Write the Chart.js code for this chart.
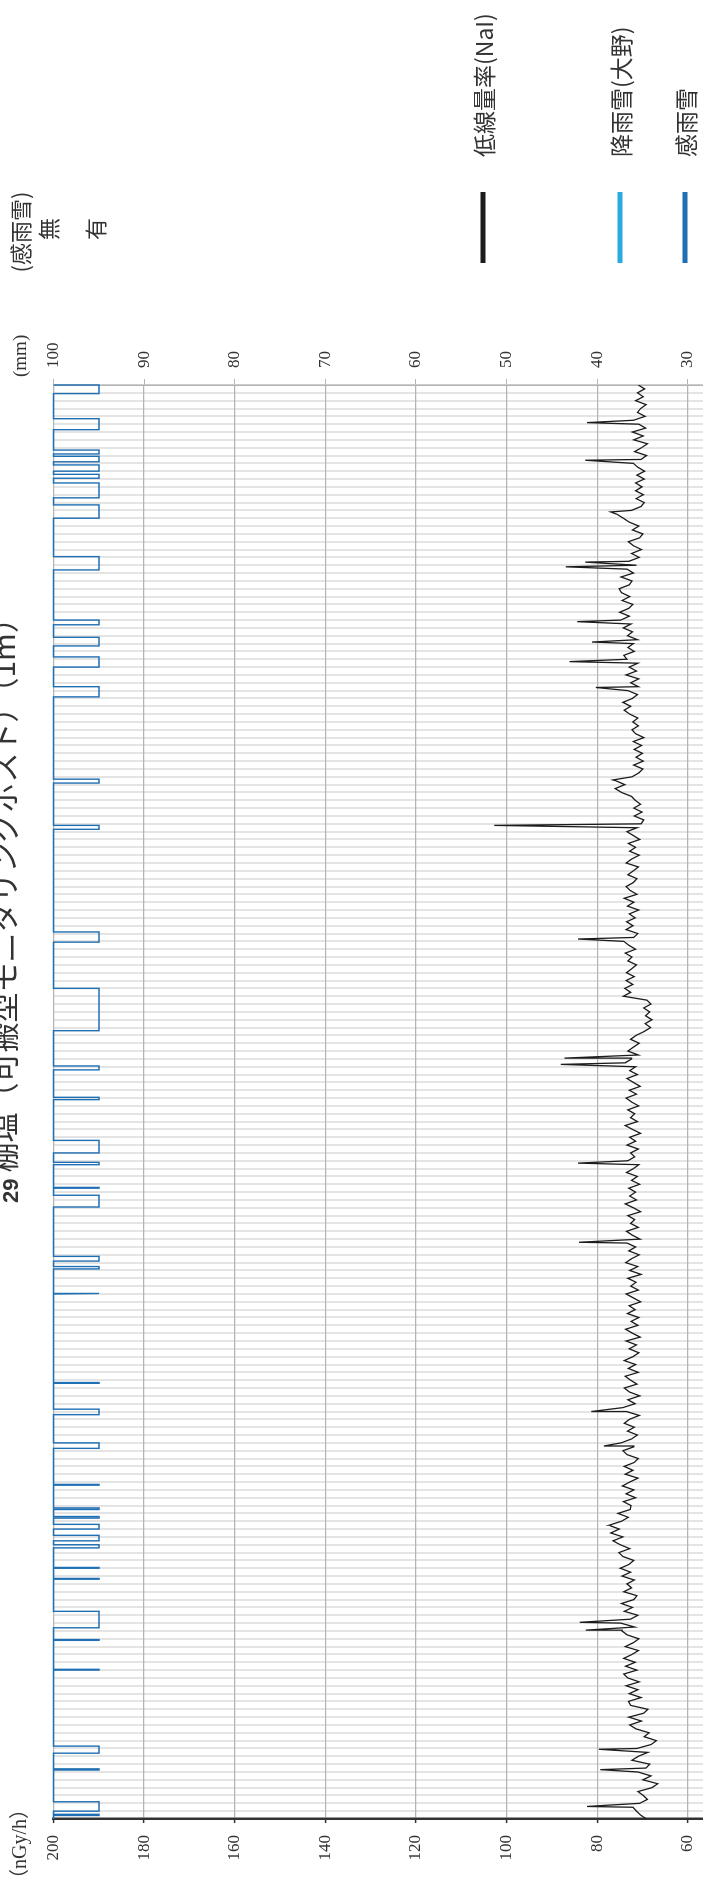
<!DOCTYPE html>
<html lang="ja">
<head>
<meta charset="utf-8">
<title>29 棚塩（可搬型モニタリングポスト）（1m）</title>
<script src="https://cdn.jsdelivr.net/npm/chart.js@4.4.1/dist/chart.umd.min.js"></script>
<style>
  html, body { margin: 0; padding: 0; background: #fff; }
  #page { position: relative; width: 703px; height: 1883px; overflow: hidden; }
  /* chart is drawn landscape, then turned a quarter to the left */
  #turn { position: absolute; left: 0; top: 0; width: 1883px; height: 1000px;
          transform-origin: 0 0; transform: translateY(1883px) rotate(-90deg); }
</style>
</head>
<body>
<div id="page"><div id="turn"><canvas id="doseChart" width="1883" height="1000"></canvas></div></div>
<script>
// period length in days, dose readings every half day
const dayCount = 183;
const doseStep = 0.5;

// 低線量率 (nGy/h), one value per half day
const doseRate = [
  69.1, 70.4, 71.3, 72.1, 70.6, 68.9, 69.8, 71.0, 67.9, 66.6, 69.9, 68.1, 71.0, 69.2, 68.4, 72.3, 70.9, 68.8, 71.2, 68.1,
  66.9, 69.6, 68.5, 71.4, 72.8, 70.2, 73.0, 69.7, 68.8, 72.6, 73.1, 70.3, 72.9, 71.0, 73.6, 70.7, 73.2, 74.1, 71.2, 73.7,
  71.6, 74.1, 72.3, 70.9, 73.8, 72.0, 70.8, 73.4, 74.5, 71.7, 74.8, 72.6, 71.0, 74.0, 72.2, 74.6, 71.9, 71.2, 74.1, 72.4,
  73.4, 71.8, 74.5, 72.6, 74.9, 72.9, 71.9, 74.3, 75.2, 72.8, 74.9, 76.5, 74.3, 77.0, 75.1, 77.3, 74.6, 73.1, 75.4, 72.7,
  72.5, 74.2, 71.5, 73.6, 71.9, 74.4, 72.8, 71.0, 73.8, 72.1, 74.0, 71.8, 70.9, 73.4, 74.3, 71.9, 74.7, 72.4, 71.1, 73.3,
  71.8, 74.0, 72.9, 70.7, 73.5, 74.3, 71.6, 73.2, 70.6, 72.9, 74.0, 71.2, 72.6, 73.8, 70.9, 73.1, 71.5, 74.0, 72.1, 70.8,
  72.9, 71.3, 73.6, 70.5, 72.2, 73.7, 71.0, 72.5, 70.8, 73.3, 71.6, 72.9, 70.4, 72.0, 73.6, 70.9, 72.6, 71.4, 73.2, 70.3,
  72.8, 71.0, 73.7, 72.4, 70.7, 73.0, 71.5, 73.4, 70.5, 72.2, 73.5, 70.9, 72.6, 71.7, 73.2, 70.4, 72.0, 73.8, 71.3, 72.8,
  71.5, 73.0, 70.6, 72.4, 71.1, 73.5, 72.0, 70.8, 73.2, 71.7, 72.6, 70.9, 73.4, 71.5, 72.8, 70.4, 72.2, 73.8, 71.1, 72.6,
  71.7, 73.2, 70.8, 72.4, 73.6, 71.3, 72.9, 70.5, 72.0, 73.4, 71.1, 72.8, 71.5, 73.8, 72.4, 70.9, 73.2, 72.0, 70.7, 72.6,
  71.4, 69.6, 68.2, 69.4, 67.9, 69.3, 68.4, 69.7, 68.1, 69.0, 74.2, 72.6, 73.9, 72.1, 73.6, 71.8, 73.5, 72.4, 71.3, 73.2,
  72.3, 73.8, 71.5, 73.0, 74.1, 71.9, 71.0, 73.6, 72.1, 73.5, 71.6, 72.9, 70.8, 73.3, 71.9, 74.0, 71.2, 72.7, 73.6, 72.0,
  71.2, 73.2, 72.0, 70.9, 73.6, 72.4, 70.7, 72.8, 71.5, 73.1, 70.6, 72.0, 73.4, 71.2, 70.3, 69.7, 71.8, 70.1, 71.9, 70.4,
  71.6, 72.4, 74.6, 76.0, 73.9, 75.9, 72.3, 70.8, 69.9, 71.9, 69.8, 71.4, 70.0, 71.8, 70.2, 72.0, 69.7, 71.5, 72.3, 70.9,
  72.1, 71.0, 72.8, 74.0, 72.6, 74.3, 72.2, 71.1, 73.2, 70.9, 72.6, 70.8, 73.6, 71.3, 72.9, 71.0, 73.4, 74.1, 71.8, 73.2,
  72.0, 71.1, 73.3, 72.2, 74.2, 72.5, 74.8, 72.9, 75.0, 73.0, 72.1, 74.5, 72.8, 74.6, 75.1, 72.9, 72.3, 74.7, 72.0, 73.4,
  71.3, 73.0, 70.7, 72.4, 70.2, 72.0, 73.1, 70.6, 69.9, 72.2, 70.8, 72.9, 74.2, 75.6, 72.4, 70.3, 69.6, 71.4, 69.8, 71.5,
  70.1, 71.5, 69.6, 71.2, 69.5, 71.0, 72.0, 70.3, 69.1, 71.7, 70.2, 68.9, 71.9, 69.8, 72.2, 69.3, 70.8, 72.0, 69.4, 71.1,
  70.4, 69.2, 71.5, 69.8, 71.1, 69.5, 70.9
];

// short peaks during rain (day, nGy/h)
const spikeDay  = [1.6, 1.75, 6.3, 8.9, 24.1, 25.1, 37.4, 47.6, 52.0, 73.6, 83.7, 96.3, 97.1, 112.3, 126.8, 132.6, 144.4, 147.7, 150.2, 152.8, 159.8, 160.4, 166.8, 173.4, 178.2];
const spikeRate = [82.2, 78.0, 79.3, 79.6, 82.5, 83.8, 77.0, 78.5, 81.3, 84.0, 84.2, 88.0, 87.2, 84.2, 102.7, 76.5, 80.3, 86.1, 81.1, 84.4, 86.9, 82.6, 77.0, 82.6, 82.2];

// 感雨雪: periods with rain/snow detected (day from, day to)
const senseStart = [0.45, 1.0, 6.25, 8.4, 19.0, 22.8, 24.4, 30.6, 32.0, 34.6, 35.5, 37.0, 38.4, 39.5, 42.6, 47.3, 51.6, 55.6, 67.0, 70.2, 71.2, 78.1, 80.5, 83.5, 85.0, 91.8, 95.6, 100.6, 111.9, 126.3, 132.2, 143.2, 147.0, 149.7, 152.4, 159.4, 166.0, 168.6, 171.1, 172.0, 173.2, 174.2, 177.3, 181.9];
const senseEnd   = [0.6, 2.2, 6.4, 9.3, 19.1, 22.9, 26.5, 30.7, 32.1, 35.0, 36.2, 37.6, 38.6, 39.7, 42.7, 48.0, 52.3, 55.7, 67.1, 70.5, 71.8, 79.6, 80.6, 83.8, 86.6, 92.1, 96.1, 106.0, 113.2, 126.8, 132.7, 144.5, 148.3, 150.8, 153.0, 161.1, 167.7, 170.5, 171.6, 172.8, 173.9, 174.7, 178.7, 183.0];

// 降雨雪(大野) in mm: nothing reaches the visible part of the axis
const precipDay = [0, 183];
const precipMm  = [0, 0];

const dosePoints = doseRate.map((v, i) => ({ x: i * doseStep, y: v }))
  .concat(spikeDay.map((d, i) => ({ x: d, y: spikeRate[i] })))
  .sort((a, b) => a.x - b.x);

const precipPoints = precipDay.map((d, i) => ({ x: d, y: precipMm[i] }));

const sensePoints = [{ x: 0, y: 0 }];
senseStart.forEach((s, i) => {
  sensePoints.push({ x: s, y: 0 }, { x: s, y: 1 }, { x: senseEnd[i], y: 1 }, { x: senseEnd[i], y: 0 });
});
sensePoints.push({ x: dayCount, y: 0 });

const textColor = '#333';
const cjk = '"Noto Sans CJK JP", sans-serif';

// title, unit captions, 感雨雪 levels and the legend
const labelPlugin = {
  id: 'labels',
  afterDraw(chart) {
    const { ctx, chartArea } = chart;
    const sense = chart.scales.ySense;
    ctx.save();
    ctx.fillStyle = textColor;

    ctx.textAlign = 'left';
    ctx.textBaseline = 'alphabetic';
    ctx.font = 'bold 22px "Liberation Sans", sans-serif';
    ctx.fillText('29', 680, 18);
    const w = ctx.measureText('29').width;
    ctx.font = '30px ' + cjk;
    ctx.fillText('棚塩（可搬型モニタリングポスト）（1m）', 680 + w + 6, 15);

    ctx.textBaseline = 'middle';
    ctx.font = '20px "Liberation Serif", "Noto Sans CJK JP", serif';
    ctx.fillText('（nGy/h）', -6, 21);
    ctx.font = '19px "Liberation Serif", serif';
    ctx.fillText('(mm)', chartArea.right + 8, 21);

    ctx.textAlign = 'center';
    ctx.font = '22px ' + cjk;
    ctx.fillText('(感雨雪)', 1651, 21);
    ctx.fillText('無', 1654, sense.getPixelForValue(0) - 5);
    ctx.fillText('有', 1654, sense.getPixelForValue(1) - 3);

    const legendY = [483, 620, 685];
    ctx.textAlign = 'left';
    ctx.font = '23px ' + cjk;
    chart.data.datasets.forEach((ds, i) => {
      ctx.strokeStyle = ds.borderColor;
      ctx.lineWidth = 5;
      ctx.beginPath();
      ctx.moveTo(1620, legendY[i]);
      ctx.lineTo(1691, legendY[i]);
      ctx.stroke();
      ctx.fillText(ds.label, 1726, legendY[i] + 1);
    });
    ctx.restore();
  }
};

const ctx = document.getElementById('doseChart').getContext('2d');
new Chart(ctx, {
  type: 'line',
  data: {
    datasets: [
      { label: '低線量率(NaI)', data: dosePoints, yAxisID: 'y', borderColor: '#1c1c1c', borderWidth: 1.3, pointRadius: 0, tension: 0 },
      { label: '降雨雪(大野)', data: precipPoints, yAxisID: 'y2', borderColor: '#29abe2', borderWidth: 1.3, pointRadius: 0 },
      { label: '感雨雪', data: sensePoints, yAxisID: 'ySense', borderColor: '#1f6fb4', borderWidth: 1.4, pointRadius: 0, clip: 4 }
    ]
  },
  options: {
    responsive: false,
    animation: false,
    devicePixelRatio: 1,
    layout: { padding: { top: 53.5, bottom: 40.5, left: 0, right: 0 } },
    plugins: { legend: { display: false }, title: { display: false }, tooltip: { enabled: false } },
    scales: {
      x: {
        type: 'linear', min: 0, max: dayCount,
        afterBuildTicks: s => { s.ticks = []; for (let d = 0; d <= dayCount; d++) s.ticks.push({ value: d }); },
        ticks: { display: false },
        grid: { color: '#e4e4e4', lineWidth: 2, drawTicks: false },
        border: { display: false },
        afterFit: s => { s.height = 0; }
      },
      y: {
        position: 'left', min: 0, max: 200,
        ticks: { stepSize: 20, color: textColor, padding: 12, font: { family: '"Liberation Serif", serif', size: 17 } },
        grid: { color: '#b4b4b4', lineWidth: 1.2, tickLength: 4, tickColor: '#333', tickWidth: 1.5 },
        border: { color: '#333', width: 2.5 },
        afterFit: s => { s.width = 64; }
      },
      y2: {
        position: 'right', min: 0, max: 100,
        ticks: { stepSize: 10, color: textColor, padding: 11, font: { family: '"Liberation Serif", serif', size: 17 } },
        grid: { drawOnChartArea: false, color: '#b4b4b4', tickLength: 6 },
        border: { color: '#b4b4b4', width: 1.5 },
        afterFit: s => { s.width = 385; }
      },
      ySense: { display: false, reverse: true, min: 0, max: 19.9 }
    }
  },
  plugins: [labelPlugin]
});
</script>
</body>
</html>
